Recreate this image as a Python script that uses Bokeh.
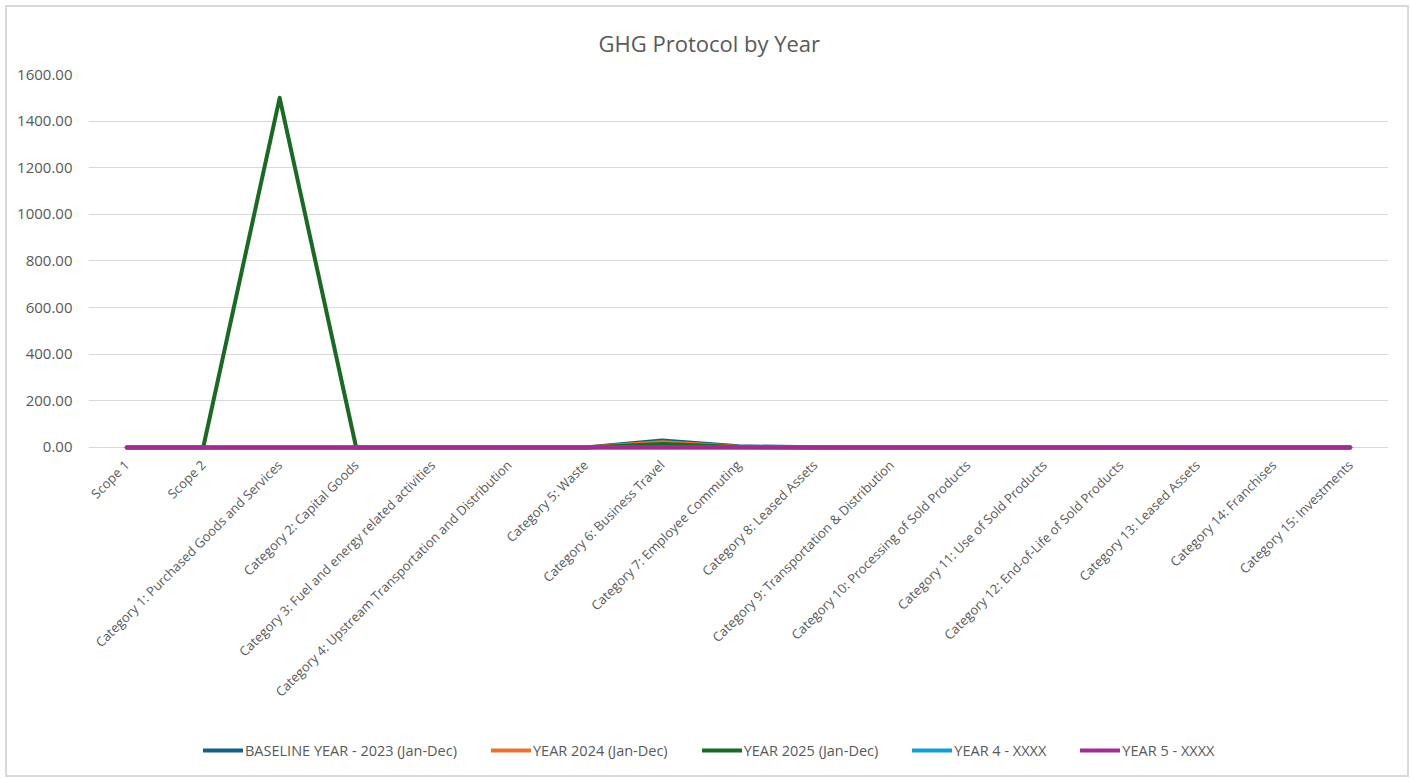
import math
from bokeh.plotting import figure
from bokeh.models import FactorRange, Range1d, FixedTicker, NumeralTickFormatter, Legend, LegendItem
from bokeh.embed import file_html
from bokeh.resources import INLINE

categories = [
    "Scope 1",
    "Scope 2",
    "Category 1: Purchased Goods and Services",
    "Category 2: Capital Goods",
    "Category 3: Fuel and energy related activities",
    "Category 4: Upstream Transportation and Distribution",
    "Category 5: Waste",
    "Category 6: Business Travel",
    "Category 7: Employee Commuting",
    "Category 8: Leased Assets",
    "Category 9: Transportation & Distribution",
    "Category 10: Processing of Sold Products",
    "Category 11: Use of Sold Products",
    "Category 12: End-of-Life of Sold Products",
    "Category 13: Leased Assets",
    "Category 14: Franchises",
    "Category 15: Investments",
]

baseline_2023 = [0, 0, 0, 0, 0, 0, 0, 30, 5, 1, 0, 0, 0, 0, 0, 0, 0]
year_2024 = [0, 0, 0, 0, 0, 0, 0, 22, 3, 0, 0, 0, 0, 0, 0, 0, 0]
year_2025 = [0, 0, 1500, 0, 0, 0, 0, 15, 2, 0, 0, 0, 0, 0, 0, 0, 0]
year_4 = [0, 0, 0, 0, 0, 0, 0, 0, 0, 0, 0, 0, 0, 0, 0, 0, 0]
year_5 = [0, 0, 0, 0, 0, 0, 0, 0, 0, 0, 0, 0, 0, 0, 0, 0, 0]

series_names = [
    "BASELINE YEAR - 2023 (Jan-Dec)",
    "YEAR 2024 (Jan-Dec)",
    "YEAR 2025 (Jan-Dec)",
    "YEAR 4 - XXXX",
    "YEAR 5 - XXXX",
]
series_values = [baseline_2023, year_2024, year_2025, year_4, year_5]
series_colors = ["#156082", "#E97132", "#196B24", "#0F9ED5", "#A02B93"]

y_ticks = [0, 200, 400, 600, 800, 1000, 1200, 1400, 1600]

FONT = "Open Sans"
TXT = "#595959"

# frame extends below the zero line to hold the rotated category labels and the legend
p = figure(
    x_range=FactorRange(factors=categories, range_padding=0),
    y_range=Range1d(-1407, 1600),
    frame_width=1300, frame_height=701,
    output_backend="svg", toolbar_location=None,
    min_border_left=81, min_border_right=19, min_border_top=67,
    min_border_bottom=0,
)
p.styles = {"border": "2px solid #D9D9D9", "margin-left": "5px", "margin-top": "5px"}

p.title.text = "GHG Protocol by Year"
p.title.align = "left"
p.title.offset = 510
p.title.text_font = FONT
p.title.text_font_size = "22px"
p.title.text_font_style = "normal"
p.title.text_color = TXT
p.title.standoff = 34

items = []
for name, vals, col in zip(series_names, series_values, series_colors):
    r = p.line(categories, vals, line_color=col, line_width=4, line_join="round", line_cap="round")
    items.append(LegendItem(label=name, renderers=[r]))

legend = Legend(items=items, orientation="horizontal", location=(115, 15))
legend.border_line_color = None
legend.background_fill_alpha = 0
legend.label_text_font = FONT
legend.label_text_font_size = "14.5px"
legend.label_text_color = TXT
legend.glyph_width = 40
legend.label_standoff = 2
legend.spacing = 34
legend.margin = 0
legend.padding = 0
p.add_layout(legend, "center")

p.outline_line_color = None
p.xgrid.grid_line_color = None
p.ygrid.grid_line_color = "#D9D9D9"
p.ygrid.grid_line_width = 1

p.yaxis.ticker = FixedTicker(ticks=y_ticks)
p.yaxis.formatter = NumeralTickFormatter(format="0.00")
p.yaxis.axis_line_color = None
p.yaxis.major_tick_line_color = None
p.yaxis.minor_tick_line_color = None
p.yaxis.major_label_standoff = 10
p.yaxis.major_label_text_font = FONT
p.yaxis.major_label_text_font_size = "15px"
p.yaxis.major_label_text_color = TXT

p.xaxis.fixed_location = 0
p.xaxis.axis_line_color = None
p.xaxis.major_tick_line_color = None
p.xaxis.minor_tick_line_color = None
p.xaxis.major_label_orientation = math.pi / 4
p.xaxis.major_label_standoff = 9
p.xaxis.major_label_text_font = FONT
p.xaxis.major_label_text_font_size = "13px"
p.xaxis.major_label_text_color = TXT

open("out.html", "w").write(file_html(p, INLINE))
